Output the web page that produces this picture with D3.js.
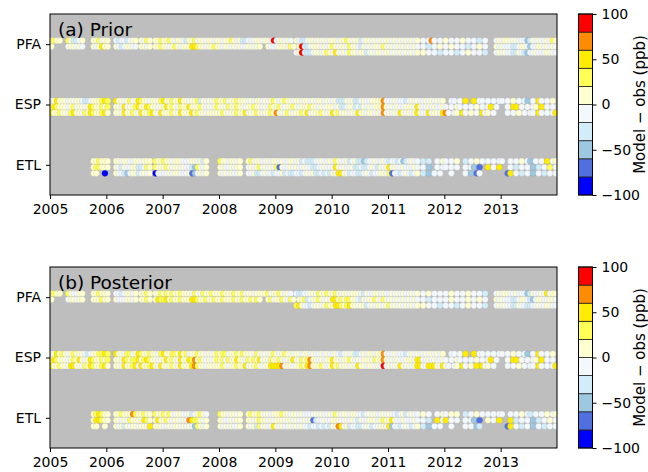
<!DOCTYPE html>
<html><head><meta charset="utf-8">
<script src="https://cdn.jsdelivr.net/npm/d3@7"></script>
<style>
body{margin:0;background:#fff}
svg{display:block}
text{font-family:"DejaVu Sans",sans-serif;fill:#000}
</style>
</head><body>
<svg id="chart" width="648" height="472"></svg>
<script>
// ---------------- data ----------------
const stations = ["PFA", "ESP", "ETL"];
const yearTicks = [2005, 2006, 2007, 2008, 2009, 2010, 2011, 2012, 2013];
const slotsPerYear = 20;              // one character = 1/20 year
const binEdges = [-100, -80, -60, -40, -20, 0, 20, 40, 60, 80, 100];
const binMid = [-90, -70, -50, -30, -10, 10, 30, 50, 70, 90];   // code 0..9 -> ppb
const binColors = ["#0000ff", "#5070e2", "#9dc8e0", "#d2edf9", "#f3f8fd",
                   "#ffffd2", "#ffff55", "#ffec00", "#ff8c00", "#ff0000"];
const cbarTicks = [-100, -50, 0, 50, 100];
const levelOffsets = [-0.06, 0.04, 0.14];   // sampling level within each site

// Each string: one row (level); chunks separated by "|" are years 2005..2013.
// '.' = no observation, digit = model-obs bin code (see binMid).
const prior_PFA = [
  "5655..653345...55645|5..43443455.5465.556|55654554355645545545|54556545334445545549|455454.5433455454545|55455654553455454545|54545454545.4.484.4.|5.4.4.5.4.4.3.4...45|45554544423545445465",
  "5.....455454...54575|5..54345544.5545.556|55456545557765545565|545545454455455..544|4555465.593345554545|65455465543545455465|45454545454.4.3.4.5.|4.5.4.4.3.4.5.4...54|54443345542445545454",
  "....................|....................|....................|....................|.......4593334554565|47545465545534545545|54545454545.5.4.4.3.|4.4.3.4.5.4.4.3...45|45443354324454445544"
];
const prior_ESP = [
  "45755545455433455567|6..75545645765545546|75565575545563545456|55645565554545545456|54565545545545455454|45333545334544555584|44544434545445454545|..44.4.7..7.44.4.4.4|4.4.5.4.42.4.74.4.5.",
  "57655545645545765565|6..55474556755765545|57565465575556545456|55465565545565545465|56545565455565545455|54533455343545455585|45454455547544545445|4.4.54.4.4.5.4.47.4.|..4.77.4.4.45.7.4.4.",
  "75565546755465765567|5..55475565475567547|55565475557565545555|56545565574556545565|85456545565745556545|75645545475545545484|54547545457544745547|84.45.74.5.4.745.4..|..4.4.5.4.44.74.4.47"
];
const prior_ETL = [
  "...............55655|5..5545544554555.655|6554555444554535....|65545545..5645544545|54544554534333445445|46544534533234454454|34434234544.3.3..4.5|4.4.5..3.4.5.4.4.4.4|4..4.4.5.42.4.4.7.45",
  "...............56655|5..5435445533465.655|5654554544326545....|55445455..4545645454|61544545445443344544|47545445334334543545|74544544454.4.2..4.4|4.4.4..4.42.1..7.4.7|...4.3.4.4.2.3.4.6.4",
  "...............55..0|...5443245534545.044|4454554445124545....|54545445..4453345443|44534334434545334343|54774534433454344554|61443454345.3.2.4.4.|..4....4.2.14.......|..17.4.3.4.2.4.3.4.4"
];
const post_PFA = [
  "5655..654455...55655|5..44345545.5565.556|56565565554654655655|56555655645545555645|565454.4334455465565|56545545554354455454|45454544545.4.5.4.4.|4.5.4.4.5.4.4.3...45|45544544423544547455",
  "5.....455455...55565|5..54445545.5565.576|67565565557765565565|565556556556565..564|5565465.556345565454|77565665543545565465|45454545454.4.3.4.4.|4.5.4.4.5.4.5.4...54|54443345543245544554",
  "....................|....................|....................|....................|.......6754434554565|57765675545534545545|64545454545.5.4.4.3.|4.4.3.4.5.4.4.3...45|45443354433445445544"
];
const post_ESP = [
  "45756545655543455667|6..75546645765565546|75566575645565545456|56645565655546545456|54565545545545445454|45434545334545545584|44544434545445454545|..44.4.7..7.44.4.4.4|4.4.5.4.42.4.74.4.5.",
  "57655545657545765565|6..55476566756765545|57565475576856545456|56465575546565745465|56545575465685545455|75545565454555465585|45454455547744545445|4.4.54.4.4.5.4.47.4.|..4.77.4.4.45.7.4.4.",
  "75565547755465765567|5..55475567475567547|55565475557865545555|56545565574556545577|77845545565785556545|75645545475545545494|54547545457744777547|54.45.74.5.7.745.4..|..4.4.5.4.44.74.4.47"
];
const post_ETL = [
  "...............56765|5..5565558655655.655|6565455445345654....|65545545..5655654545|55655455454444545445|46545545544345454454|54434534544.5.4..4.5|4.5.5..3.4.5.4.4.4.4|4..4.4.5.43.4.4.5.45",
  "...............57765|5..5545465554765.575|5654554548766545....|55445455..5545655454|55545545445451344544|55544545435445554565|57544544454.4.3..7.4|7.4.4..4.42.1..5.4.7|...7.3.4.4.2.3.4.5.4",
  "...............55..5|...5453545545547.555|4454554545426545....|54545445..5453645447|54544545454434434343|54874534433454344554|72443454345.3.2.4.4.|..4....4.4.23.......|..17.4.3.4.2.4.3.4.4"
];

// ---------------- layout ----------------
const svg = d3.select("#chart");
const L = 50, R = 557, H = 181;
const panels = [
  {title: "(a) Prior", top: 14, sets: [prior_PFA, prior_ESP, prior_ETL]},
  {title: "(b) Posterior", top: 267, sets: [post_PFA, post_ESP, post_ETL]}
];
const color = d3.scaleThreshold().domain(binEdges.slice(1, -1)).range(binColors);
const x = d3.scaleLinear().domain([2005, 2014]).range([L, R]);

function decode(rows, si) {
  const pts = [];
  rows.forEach((s, ri) => {
    s.split("|").forEach((chunk, yi) => {
      for (let k = 0; k < chunk.length; k++) {
        const c = chunk[k];
        if (c === ".") continue;
        pts.push({t: yearTicks[yi] + (k + 0.5) / slotsPerYear, site: si, level: ri, v: binMid[+c]});
      }
    });
  });
  return pts;
}

panels.forEach((p, pi) => {
  const y = d3.scaleLinear().domain([-0.5, 2.5]).range([p.top, p.top + H]);
  const g = svg.append("g");
  g.append("rect").attr("x", L).attr("y", p.top).attr("width", R - L).attr("height", H)
    .attr("fill", "#bebebe");
  const cid = "clip" + pi;
  g.append("clipPath").attr("id", cid).append("rect")
    .attr("x", L).attr("y", p.top).attr("width", R - L).attr("height", H);
  const dots = g.append("g").attr("clip-path", `url(#${cid})`);
  p.sets.forEach((rows, si) => {
    const pts = decode(rows, si);
    dots.selectAll(null).data(pts).enter().append("circle")
      .attr("cx", d => x(d.t))
      .attr("cy", d => y(d.site + levelOffsets[d.level]))
      .attr("r", 3.1)
      .attr("fill", d => color(d.v))
      .attr("stroke", "rgba(110,110,110,0.25)")
      .attr("stroke-width", 0.5);
  });
  g.append("rect").attr("x", L).attr("y", p.top).attr("width", R - L).attr("height", H)
    .attr("fill", "none").attr("stroke", "#000").attr("stroke-width", 1);

  const xa = g.append("g").attr("transform", `translate(0,${p.top + H})`)
    .call(d3.axisBottom(x).tickValues(yearTicks).tickFormat(d3.format("d")).tickSize(4).tickPadding(5));
  const ya = g.append("g").attr("transform", `translate(${L},0)`)
    .call(d3.axisLeft(y).tickValues([0, 1, 2]).tickFormat(i => stations[i]).tickSize(4).tickPadding(5));
  [xa, ya].forEach(a => {
    a.select(".domain").remove();
    a.selectAll("text").attr("font-size", 14).attr("font-family", "DejaVu Sans");
    a.selectAll("line").attr("stroke", "#000");
  });

  g.append("text").attr("x", L + 8).attr("y", p.top + 22)
    .attr("font-size", 18.5).text(p.title);

  // colorbar
  const cx0 = 578.5, cw = 14;
  const cy = d3.scaleLinear().domain([-100, 100]).range([p.top + H, p.top]);
  const cb = svg.append("g");
  cb.selectAll(null).data(binMid).enter().append("rect")
    .attr("x", cx0).attr("width", cw)
    .attr("y", (d, i) => cy(binEdges[i + 1]))
    .attr("height", (d, i) => cy(binEdges[i]) - cy(binEdges[i + 1]))
    .attr("fill", d => color(d))
    .attr("stroke", "#222").attr("stroke-width", 0.8);
  cb.append("rect").attr("x", cx0).attr("y", p.top).attr("width", cw).attr("height", H)
    .attr("fill", "none").attr("stroke", "#000").attr("stroke-width", 1);
  const ca = cb.append("g").attr("transform", `translate(${cx0 + cw},0)`)
    .call(d3.axisRight(cy).tickValues(cbarTicks).tickSize(4).tickPadding(5));
  ca.select(".domain").remove();
  ca.selectAll("text").attr("font-size", 14).attr("font-family", "DejaVu Sans");
  ca.selectAll("line").attr("stroke", "#000");
  cb.append("text")
    .attr("transform", `translate(640,${p.top + H / 2}) rotate(-90)`)
    .attr("text-anchor", "middle").attr("dominant-baseline", "central")
    .attr("font-size", 15).text("Model \u2212 obs (ppb)");
});
</script>
</body></html>
